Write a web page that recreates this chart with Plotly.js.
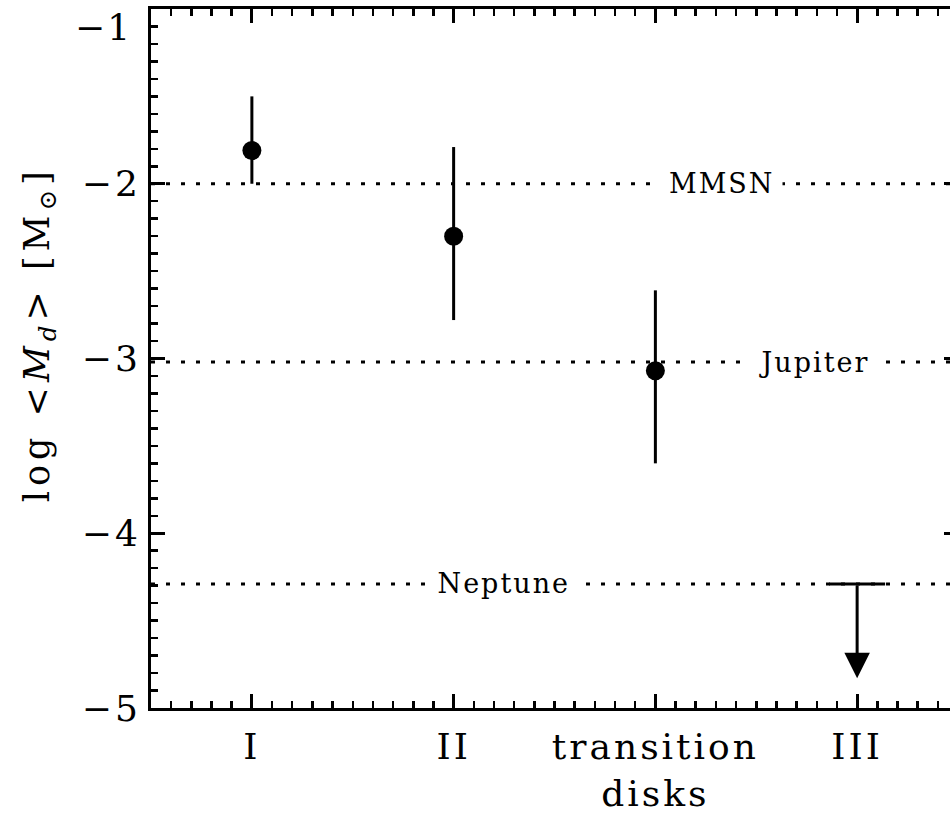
<!DOCTYPE html>
<html>
<head>
<meta charset="utf-8">
<script src="https://cdn.plot.ly/plotly-3.0.1.min.js"></script>
<style>
html, body { margin: 0; padding: 0; overflow: hidden; background: #fff; }
svg text { letter-spacing: 3px; }
svg .g-ytitle text { letter-spacing: 5px; }
svg .annotation text { letter-spacing: 2px; }
</style>
</head>
<body>
<div id="chart"></div>
<script>
// Categories (x positions 1..4)
const groups = ['I', 'II', 'transition<br>disks', 'III'];
const groupPos = [1, 2, 3, 4];

// Mean disk masses (log Msun) with asymmetric error bars, for I, II, transition disks
const detPos = [1, 2, 3];
const logMd = [-1.81, -2.30, -3.07];
const errPlus = [0.31, 0.51, 0.46];
const errMinus = [0.19, 0.48, 0.53];

// Upper limit for class III
const limitPos = [4];
const limitVal = [-4.29];
const limitArrowEnd = [-4.83];

// Reference masses (log Msun)
const refNames = ['MMSN', 'Jupiter', 'Neptune'];
const refVals = [-2.0, -3.02, -4.29];
const refLabelX = [3.33, 3.785, 2.25];

const xRange = [0.5, 4.5];
const yRange = [-5, -1];
const yTicks = [-5, -4, -3, -2];
const yTopLabel = '−1';

const serif = 'DejaVu Serif, Liberation Serif, serif';
const traces = [];

// reference dotted lines
refVals.forEach((v, i) => {
  traces.push({
    type: 'scatter', mode: 'lines',
    x: xRange, y: [v, v],
    line: { color: 'black', width: 3, dash: '4px,11px' },
    hoverinfo: 'skip', showlegend: false
  });
});

// detections
traces.push({
  type: 'scatter', mode: 'markers',
  x: detPos, y: logMd,
  marker: { color: 'black', size: 19, symbol: 'circle' },
  error_y: { type: 'data', symmetric: false, array: errPlus, arrayminus: errMinus,
             color: 'black', thickness: 3, width: 0 },
  showlegend: false
});

// upper limit cap
traces.push({
  type: 'scatter', mode: 'markers',
  x: limitPos, y: limitVal,
  marker: { symbol: 'line-ew', size: 40, color: 'black', line: { color: 'black', width: 3 } },
  showlegend: false
});

const annotations = refNames.map((n, i) => ({
  x: refLabelX[i], y: refVals[i], xref: 'x', yref: 'y',
  text: n, showarrow: false, bgcolor: 'white', borderpad: 6,
  font: { family: serif, size: 27, color: 'black' }
}));

annotations.push({
  x: limitPos[0], y: limitArrowEnd[0], ax: limitPos[0], ay: limitVal[0],
  xref: 'x', yref: 'y', axref: 'x', ayref: 'y',
  text: '', showarrow: true, arrowhead: 2, arrowsize: 1.7, arrowwidth: 3,
  arrowcolor: 'black', standoff: 0
});

// top y tick label (kept inside the page, like the reference)
annotations.push({
  x: 0, y: yRange[1], xref: 'paper', yref: 'y',
  xanchor: 'right', yanchor: 'top', xshift: -16, yshift: 4,
  text: yTopLabel, showarrow: false,
  font: { family: serif, size: 36, color: 'black' }
});

const axisCommon = {
  showline: true, linewidth: 3, linecolor: 'black', mirror: 'ticks',
  ticks: 'inside', ticklen: 14, tickwidth: 3, tickcolor: 'black',
  showgrid: false, zeroline: false,
  tickfont: { family: serif, size: 36, color: 'black' },
  minor: { dtick: 0.1, ticks: 'inside', ticklen: 7, tickwidth: 2.5, tickcolor: 'black', showgrid: false }
};

const layout = {
  width: 963, height: 813,
  margin: { l: 151, r: 5, t: 9, b: 105, pad: 0 },
  paper_bgcolor: 'white', plot_bgcolor: 'white',
  showlegend: false,
  xaxis: Object.assign({}, axisCommon, {
    range: xRange, tickmode: 'array', tickvals: groupPos, ticktext: groups,
    ticklabelstandoff: 5
  }),
  yaxis: Object.assign({}, axisCommon, {
    range: yRange, tickmode: 'array', tickvals: yTicks,
    ticklabelstandoff: 0,
    title: { text: '&nbsp;&nbsp;&nbsp;log &lt;<i>M<sub>d</sub></i>&gt; [M<sub>⊙</sub>]',
             font: { family: serif, size: 35, color: 'black' }, standoff: 22 }
  }),
  annotations: annotations
};

Plotly.newPlot('chart', traces, layout, { displayModeBar: false, staticPlot: true });
</script>
</body>
</html>
